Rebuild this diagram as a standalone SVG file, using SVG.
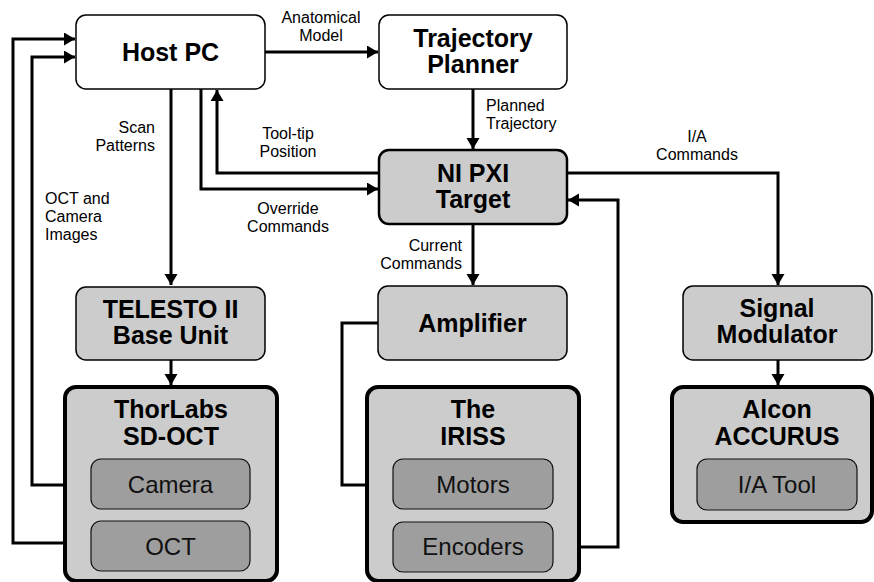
<svg xmlns="http://www.w3.org/2000/svg" width="874" height="582" viewBox="0 0 874 582">
<style>
  .white{fill:#ffffff;stroke:#000;stroke-width:1.5}
  .mid{fill:#cccccc;stroke:#000;stroke-width:1.5}
  .pxi{fill:#cccccc;stroke:#000;stroke-width:2.5}
  .outer{fill:#cccccc;stroke:#000;stroke-width:4}
  .inner{fill:#9e9e9e;stroke:#111;stroke-width:1.2}
  .title{font-family:"Liberation Sans",Arial,sans-serif;font-weight:bold;font-size:25px;text-anchor:middle;fill:#000}
  .sub{font-family:"Liberation Sans",Arial,sans-serif;font-size:24px;text-anchor:middle;fill:#111}
  .lbl{font-family:"Liberation Sans",Arial,sans-serif;font-size:16px;fill:#000}
  .c{text-anchor:middle}
  .r{text-anchor:end}
  .wire{fill:none;stroke:#000;stroke-width:3}
</style>
<defs>
  <marker id="ah" markerUnits="userSpaceOnUse" markerWidth="12" markerHeight="14" refX="11" refY="6.5" orient="auto">
    <path d="M0,0 L11,6.5 L0,13 Z" fill="#000"/>
  </marker>
</defs>

<g id="connectors">
  <path class="wire" d="M91,543 H13 V39 H75" marker-end="url(#ah)"/>
  <path class="wire" d="M91,485 H32 V57 H75" marker-end="url(#ah)"/>
  <path class="wire" d="M265,52 H378" marker-end="url(#ah)"/>
  <path class="wire" d="M171,89 V285" marker-end="url(#ah)"/>
  <path class="wire" d="M379,173 H217 V90" marker-end="url(#ah)"/>
  <path class="wire" d="M201,89 V189 H378" marker-end="url(#ah)"/>
  <path class="wire" d="M473,89 V149" marker-end="url(#ah)"/>
  <path class="wire" d="M473,224 V285" marker-end="url(#ah)"/>
  <path class="wire" d="M567,173 H778 V285" marker-end="url(#ah)"/>
  <path class="wire" d="M778,360 V385" marker-end="url(#ah)"/>
  <path class="wire" d="M171,360 V385" marker-end="url(#ah)"/>
  <path class="wire" d="M378,323 H342 V485 H392" marker-end="url(#ah)"/>
  <path class="wire" d="M553,547 H618 V200 H568" marker-end="url(#ah)"/>
</g>

<g id="labels">
  <text class="lbl c" x="321" y="23">Anatomical</text>
  <text class="lbl c" x="321" y="41">Model</text>
  <text class="lbl r" x="155" y="133">Scan</text>
  <text class="lbl r" x="155" y="151">Patterns</text>
  <text class="lbl c" x="288" y="139">Tool-tip</text>
  <text class="lbl c" x="288" y="157">Position</text>
  <text class="lbl c" x="288" y="214">Override</text>
  <text class="lbl c" x="288" y="232">Commands</text>
  <text class="lbl" x="45" y="204">OCT and</text>
  <text class="lbl" x="45" y="222">Camera</text>
  <text class="lbl" x="45" y="240">Images</text>
  <text class="lbl" x="486" y="111">Planned</text>
  <text class="lbl" x="486" y="129">Trajectory</text>
  <text class="lbl c" x="697" y="142">I/A</text>
  <text class="lbl c" x="697" y="160">Commands</text>
  <text class="lbl r" x="462" y="251">Current</text>
  <text class="lbl r" x="462" y="269">Commands</text>
</g>

<g id="host-pc">
  <rect class="white" x="76" y="15" width="189" height="74" rx="10"/>
  <text class="title" x="170.5" y="61">Host PC</text>
</g>
<g id="trajectory-planner">
  <rect class="white" x="379" y="15" width="188" height="74" rx="10"/>
  <text class="title" x="473" y="47">Trajectory</text>
  <text class="title" x="473" y="73">Planner</text>
</g>
<g id="ni-pxi">
  <rect class="pxi" x="379" y="150" width="188" height="74" rx="10"/>
  <text class="title" x="473" y="182">NI PXI</text>
  <text class="title" x="473" y="208">Target</text>
</g>
<g id="telesto">
  <rect class="mid" x="76" y="287" width="189" height="73" rx="10"/>
  <text class="title" x="170.5" y="318">TELESTO II</text>
  <text class="title" x="170.5" y="344">Base Unit</text>
</g>
<g id="amplifier">
  <rect class="mid" x="378" y="286" width="189" height="74" rx="10"/>
  <text class="title" x="472.5" y="332">Amplifier</text>
</g>
<g id="signal-modulator">
  <rect class="mid" x="683" y="286" width="189" height="74" rx="10"/>
  <text class="title" x="777" y="317">Signal</text>
  <text class="title" x="777" y="343">Modulator</text>
</g>
<g id="thorlabs">
  <rect class="outer" x="65" y="387" width="212" height="194" rx="11"/>
  <text class="title" x="171" y="418">ThorLabs</text>
  <text class="title" x="171" y="445">SD-OCT</text>
  <g id="camera">
    <rect class="inner" x="91" y="459" width="159" height="50" rx="10"/>
    <text class="sub" x="170.5" y="493">Camera</text>
  </g>
  <g id="oct">
    <rect class="inner" x="91" y="521" width="159" height="50" rx="10"/>
    <text class="sub" x="170.5" y="555">OCT</text>
  </g>
</g>
<g id="iriss">
  <rect class="outer" x="367" y="387" width="212" height="194" rx="11"/>
  <text class="title" x="473" y="418">The</text>
  <text class="title" x="473" y="445">IRISS</text>
  <g id="motors">
    <rect class="inner" x="393" y="459" width="160" height="50" rx="10"/>
    <text class="sub" x="473" y="493">Motors</text>
  </g>
  <g id="encoders">
    <rect class="inner" x="393" y="522" width="160" height="50" rx="10"/>
    <text class="sub" x="473" y="555">Encoders</text>
  </g>
</g>
<g id="alcon">
  <rect class="outer" x="672" y="387" width="200" height="135" rx="11"/>
  <text class="title" x="777" y="418">Alcon</text>
  <text class="title" x="777" y="445">ACCURUS</text>
  <g id="ia-tool">
    <rect class="inner" x="697" y="459" width="160" height="51" rx="10"/>
    <text class="sub" x="777" y="493">I/A Tool</text>
  </g>
</g>
</svg>
